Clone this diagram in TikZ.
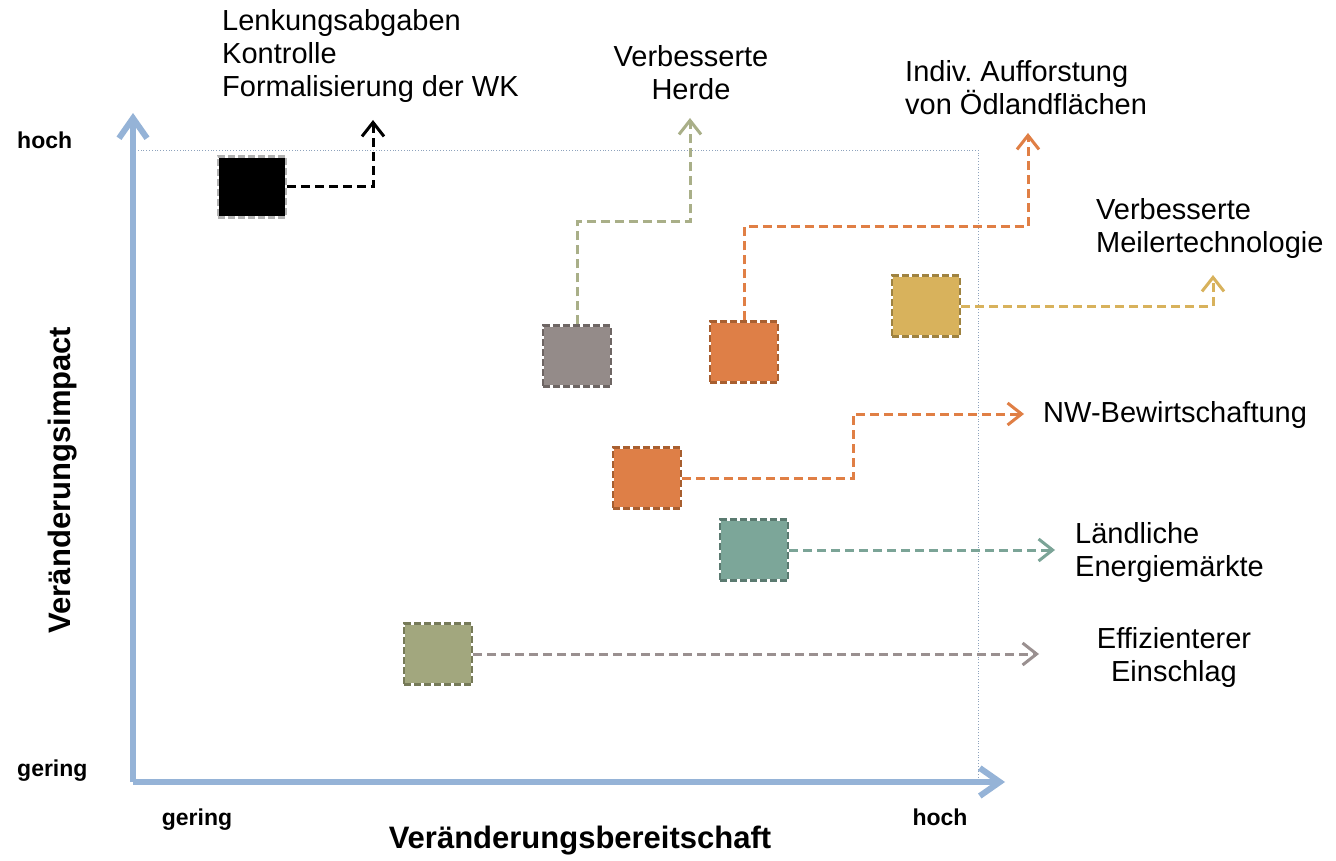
\documentclass[tikz,border=0pt]{standalone}
\usepackage{fontspec}
\setmainfont{Liberation Sans}
\frenchspacing
\usetikzlibrary{arrows.meta}
\definecolor{axisblue}{HTML}{95B3D7}
\definecolor{framecol}{HTML}{8EA3BD}
\definecolor{cgray}{HTML}{948B89}
\definecolor{cgrayd}{HTML}{6E6664}
\definecolor{corange}{HTML}{DE7F47}
\definecolor{coranged}{HTML}{A85F30}
\definecolor{cyellow}{HTML}{D8B25C}
\definecolor{cyellowd}{HTML}{9E8240}
\definecolor{cteal}{HTML}{7CA699}
\definecolor{cteald}{HTML}{5A7A70}
\definecolor{colive}{HTML}{A2A77E}
\definecolor{colived}{HTML}{767A58}
\definecolor{lolive}{HTML}{A9AF88}
\definecolor{lgray}{HTML}{9A9090}
\definecolor{lorange}{HTML}{E07F45}
\definecolor{lteal}{HTML}{7BA497}
\tikzset{
  box/.style n args={2}{rectangle, minimum width=68pt, minimum height=61pt, inner sep=0pt,
     fill=#1, draw=white, line width=2.5pt,
     postaction={draw=#2, line width=2.5pt, dash pattern=on 7pt off 3pt}},
  conn/.style={draw=#1, line width=3pt, dash pattern=on 9pt off 5pt,
     -{Straight Barb[length=14pt,width=22pt,line width=3pt]}},
  axis/.style={draw=axisblue, line width=6pt,
     -{Straight Barb[length=20pt,width=28pt,line width=6pt]}},
  lbl/.style={font=\fontsize{29}{33}\selectfont, inner sep=0pt},
  blbl/.style={font=\fontsize{23}{27}\selectfont\bfseries, inner sep=0pt},
  tlbl/.style={font=\fontsize{31}{35}\selectfont\bfseries, inner sep=0pt}
}
\begin{document}
\begin{tikzpicture}[x=1pt,y=-1pt]
\useasboundingbox (0,0) rectangle (1336,861);
\fill[white] (0,0) rectangle (1336,861);

% frame
\draw[framecol, line width=0.8pt, dotted] (133,150) rectangle (978,782);

% axes
\coordinate (o) at (133,782);
\coordinate (ytip) at (133,113);
\coordinate (xtip) at (1005,782);
\draw[axis] (o) -- (ytip);
\draw[axis] (o) -- (xtip);

% axis labels
\node[blbl, anchor=west] (yhoch) at (17,140) {hoch};
\node[blbl, anchor=west] (ygering) at (17,771) {gering};
\node[blbl] (xgering) at (197,820) {gering};
\node[blbl] (xhoch) at (940,817) {hoch};
\node[tlbl] (xtitle) at (580,841) {Veränderungsbereitschaft};
\node[tlbl, rotate=90] (ytitle) at (63,480) {Veränderungsimpact};

% boxes
\node[box={black}{white!70!black}] (b1) at (252,187) {};
\node[box={cgray}{cgrayd}] (b2) at (577,356) {};
\node[box={corange}{coranged}] (b3) at (744,352) {};
\node[box={cyellow}{cyellowd}] (b4) at (926,306) {};
\node[box={corange}{coranged}] (b5) at (647,478) {};
\node[box={cteal}{cteald}] (b6) at (754,550) {};
\node[box={colive}{colived}] (b7) at (438,654) {};

% connector ends
\coordinate (t1) at (373,120);
\coordinate (k2) at (690,222);
\coordinate (t2) at (690,118);
\coordinate (k3) at (1028,227);
\coordinate (t3) at (1028,133);
\coordinate (t4) at (1213,275);
\coordinate (k5) at (853,414);
\coordinate (t5) at (1024,414);
\coordinate (t6) at (1055,550);
\coordinate (t7) at (1039,654);

\draw[conn=black] (b1.east) -| (t1);
\draw[conn=lolive] (b2.north) |- (k2) -- (t2);
\draw[conn=lorange] (b3.north) |- (k3) -- (t3);
\draw[conn=cyellow] (b4.east) -| (t4);
\draw[conn=lorange] (b5.east) -| (k5) -- (t5);
\draw[conn=lteal] (b6.east) -- (t6);
\draw[conn=lgray] (b7.east) -- (t7);

% texts
\node[lbl, align=left, anchor=north west] (l1) at (222,9) {Lenkungsabgaben\\Kontrolle\\Formalisierung der WK};
\node[lbl, align=center, anchor=north] (l2) at (691,45) {Verbesserte\\Herde};
\node[lbl, align=left, anchor=north west] (l3) at (905,60) {Indiv. Aufforstung\\von Ödlandflächen};
\node[lbl, align=left, anchor=north west] (l4) at (1096,198) {Verbesserte\\Meilertechnologie};
\node[lbl, anchor=west] (l5) at (1043,415) {NW-Bewirtschaftung};
\node[lbl, align=left, anchor=north west] (l6) at (1075,522) {Ländliche\\Energiemärkte};
\node[lbl, align=center, anchor=north] (l7) at (1174,627) {Effizienterer\\Einschlag};
\end{tikzpicture}
\end{document}
